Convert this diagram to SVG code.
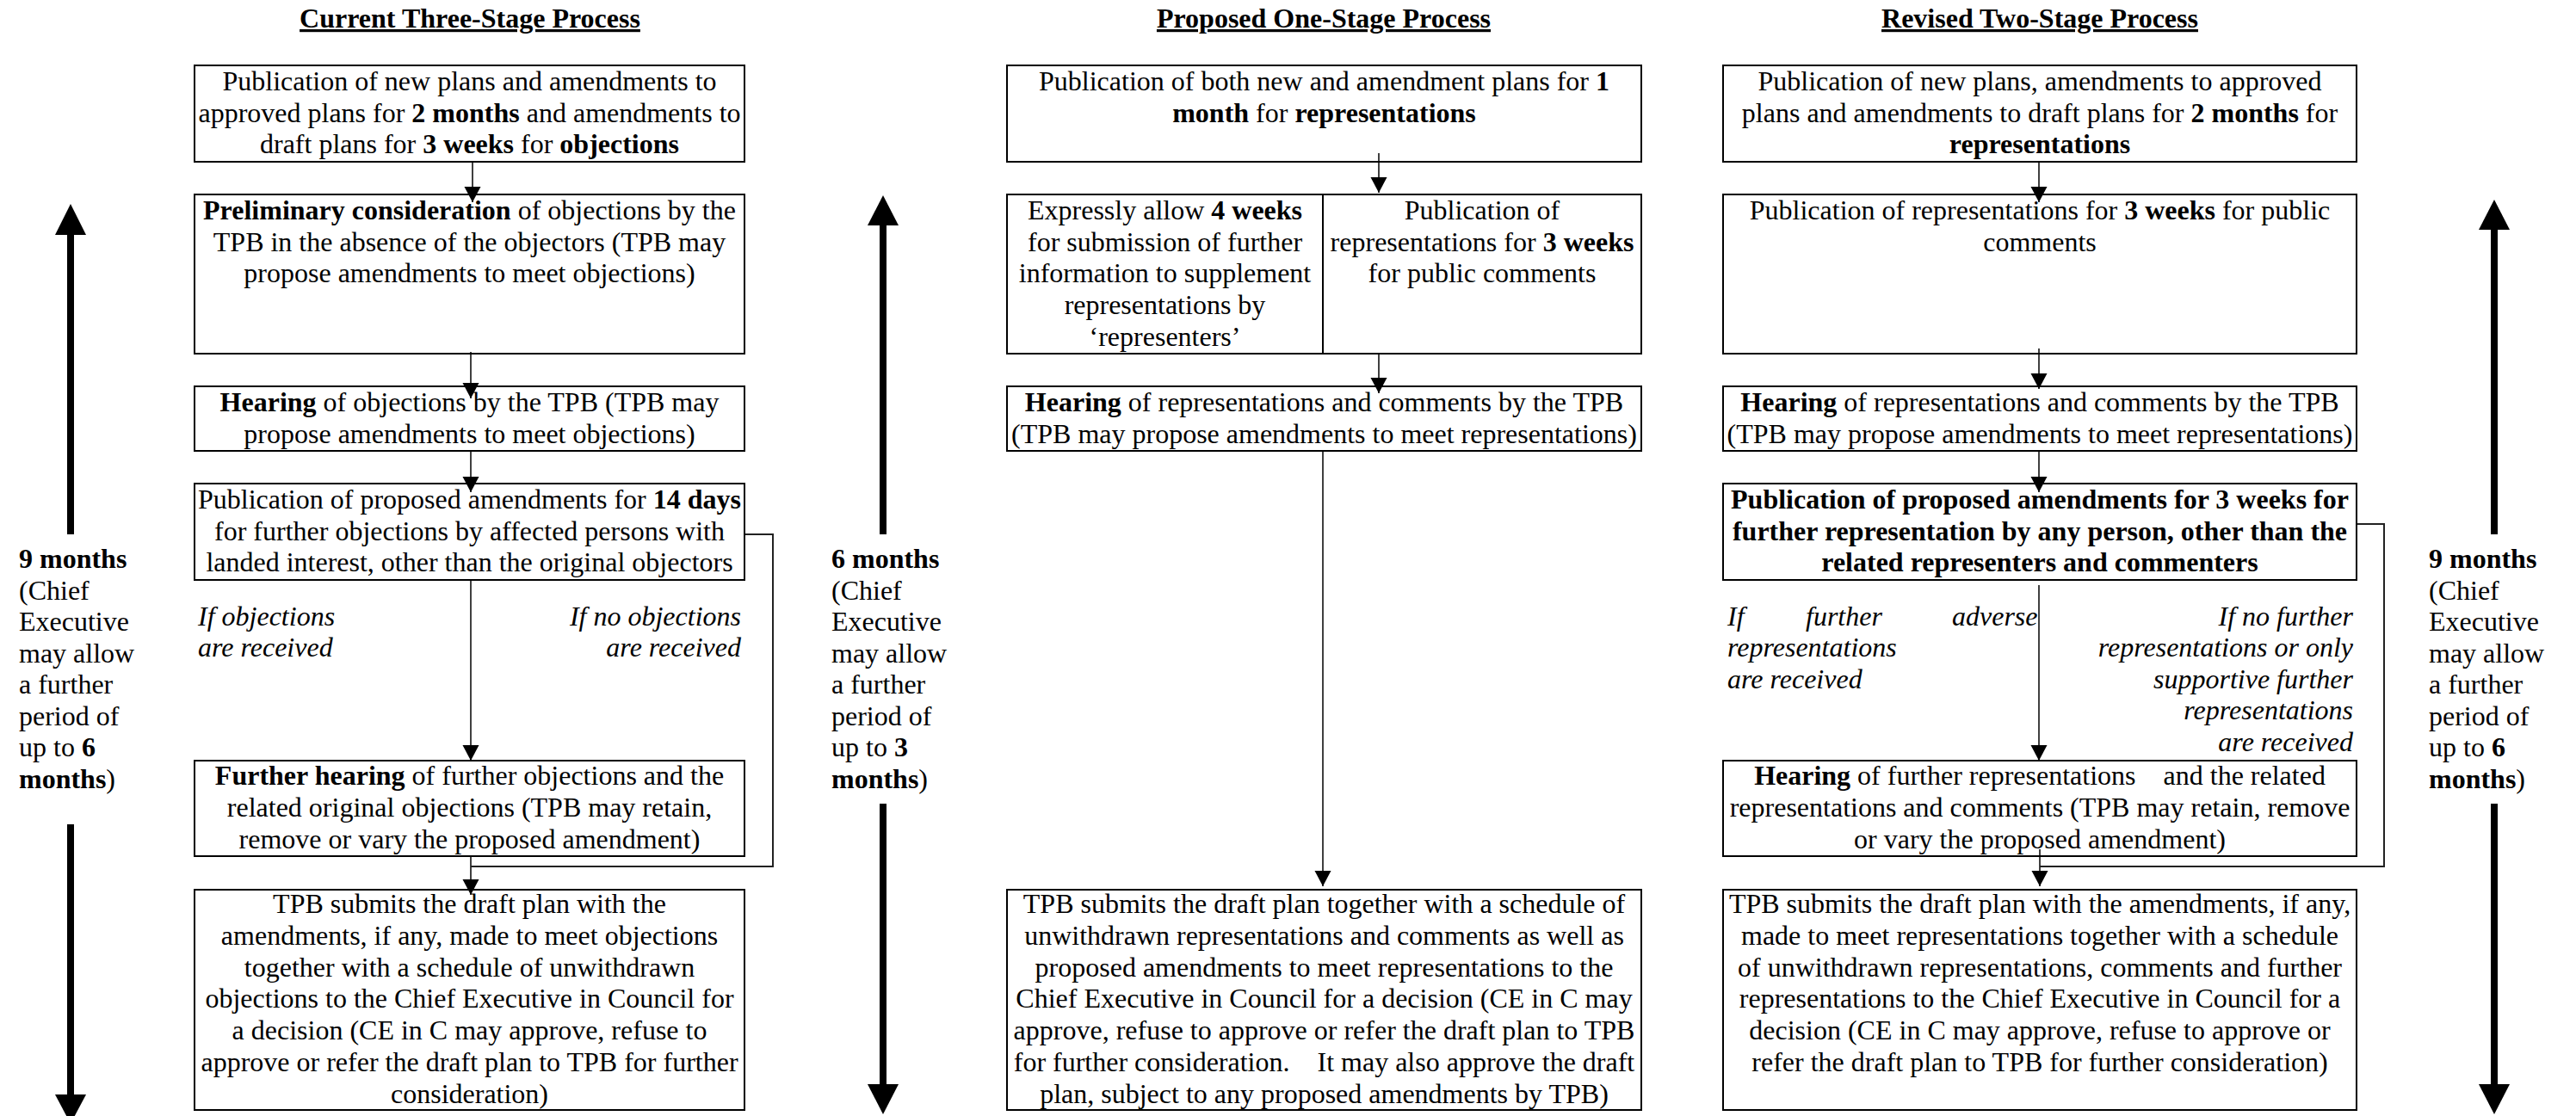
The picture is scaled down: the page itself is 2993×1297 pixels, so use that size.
<svg xmlns="http://www.w3.org/2000/svg" width="2993" height="1297" viewBox="0 0 2993 1297">
<style>
text { font-family: "Liberation Serif", "Times New Roman", serif; font-size: 32px; fill: #000; }
.c { text-anchor: middle; }
.e { text-anchor: end; }
.b { font-weight: bold; }
.i { font-style: italic; }
.title { font-weight: bold; text-decoration: underline; text-anchor: middle; }
.box { fill: #fff; stroke: #000; stroke-width: 2; }
.conn { stroke: #000; stroke-width: 1.5; fill: none; }
.side { stroke: #222; stroke-width: 2; fill: none; }
.big { stroke: #000; stroke-width: 8; fill: none; }
</style>
<defs>
<marker id="ah" markerUnits="userSpaceOnUse" viewBox="0 0 18 20" markerWidth="18" markerHeight="20" refX="18" refY="10" orient="auto">
<path d="M0,0.5 L18,10 L0,19.5 z" fill="#000"/>
</marker>
</defs>

<!-- Titles -->
<g id="titles">
<text class="title" x="546" y="32">Current Three-Stage Process</text>
<text class="title" x="1538" y="32">Proposed One-Stage Process</text>
<text class="title" x="2370" y="32">Revised Two-Stage Process</text>
</g>

<!-- Connectors -->
<g id="connectors">
<line class="conn" x1="549" y1="188" x2="549" y2="235" marker-end="url(#ah)"/>
<line class="conn" x1="547" y1="409" x2="547" y2="463" marker-end="url(#ah)"/>
<line class="conn" x1="547" y1="524" x2="547" y2="572" marker-end="url(#ah)"/>
<line class="conn" x1="547" y1="674" x2="547" y2="884" marker-end="url(#ah)"/>
<line class="conn" x1="547" y1="995" x2="547" y2="1040" marker-end="url(#ah)"/>
<polyline class="side" points="865,621 898,621 898,1007 547,1007"/>

<line class="conn" x1="1602" y1="178" x2="1602" y2="224" marker-end="url(#ah)"/>
<line class="conn" x1="1602" y1="411" x2="1602" y2="457" marker-end="url(#ah)"/>
<line class="conn" x1="1537" y1="524" x2="1537" y2="1030" marker-end="url(#ah)"/>

<line class="conn" x1="2369" y1="188" x2="2369" y2="235" marker-end="url(#ah)"/>
<line class="conn" x1="2369" y1="405" x2="2369" y2="452" marker-end="url(#ah)"/>
<line class="conn" x1="2369" y1="524" x2="2369" y2="572" marker-end="url(#ah)"/>
<line class="conn" x1="2369" y1="680" x2="2369" y2="884" marker-end="url(#ah)"/>
<line class="conn" x1="2370" y1="987" x2="2370" y2="1030" marker-end="url(#ah)"/>
<polyline class="side" points="2738,609 2770,609 2770,1007 2370,1007"/>
</g>

<!-- Column 1: Current Three-Stage Process -->
<g id="c1-publication">
<rect class="box" x="226" y="76" width="639" height="112"/>
<text class="c" x="545.5" y="105">Publication of new plans and amendments to</text>
<text class="c" x="545.5" y="142">approved plans for <tspan class="b">2 months</tspan> and amendments to</text>
<text class="c" x="545.5" y="178">draft plans for <tspan class="b">3 weeks</tspan> for <tspan class="b">objections</tspan></text>
</g>
<g id="c1-preliminary">
<rect class="box" x="226" y="226" width="639" height="185" fill-opacity="0"/>
<text class="c" x="545.5" y="255"><tspan class="b">Preliminary consideration</tspan> of objections by the</text>
<text class="c" x="545.5" y="292">TPB in the absence of the objectors (TPB may</text>
<text class="c" x="545.5" y="328">propose amendments to meet objections)</text>
</g>
<g id="c1-hearing">
<rect class="box" x="226" y="449" width="639" height="75" fill-opacity="0"/>
<text class="c" x="545.5" y="478"><tspan class="b">Hearing</tspan> of objections by the TPB (TPB may</text>
<text class="c" x="545.5" y="515">propose amendments to meet objections)</text>
</g>
<g id="c1-publish-amend">
<rect class="box" x="226" y="562" width="639" height="112" fill-opacity="0"/>
<text class="c" x="545.5" y="591">Publication of proposed amendments for <tspan class="b">14 days</tspan></text>
<text class="c" x="545.5" y="628">for further objections by affected persons with</text>
<text class="c" x="545.5" y="664">landed interest, other than the original objectors</text>
</g>
<g id="c1-labels">
<text class="i" x="230" y="727">If objections</text>
<text class="i" x="230" y="763">are received</text>
<text class="i e" x="861" y="727">If no objections</text>
<text class="i e" x="861" y="763">are received</text>
</g>
<g id="c1-further-hearing">
<rect class="box" x="226" y="884" width="639" height="111" fill-opacity="0"/>
<text class="c" x="545.5" y="912"><tspan class="b">Further hearing</tspan> of further objections and the</text>
<text class="c" x="545.5" y="949">related original objections (TPB may retain,</text>
<text class="c" x="545.5" y="986">remove or vary the proposed amendment)</text>
</g>
<g id="c1-submit">
<rect class="box" x="226" y="1034" width="639" height="256" fill-opacity="0"/>
<text class="c" x="545.5" y="1061">TPB submits the draft plan with the</text>
<text class="c" x="545.5" y="1098">amendments, if any, made to meet objections</text>
<text class="c" x="545.5" y="1135">together with a schedule of unwithdrawn</text>
<text class="c" x="545.5" y="1171">objections to the Chief Executive in Council for</text>
<text class="c" x="545.5" y="1208">a decision (CE in C may approve, refuse to</text>
<text class="c" x="545.5" y="1245">approve or refer the draft plan to TPB for further</text>
<text class="c" x="545.5" y="1282">consideration)</text>
</g>
<g id="c1-duration">
<line class="big" x1="82" y1="621" x2="82" y2="270"/>
<polygon points="64,273 100,273 82,237"/>
<text class="b" x="22" y="660">9 months</text>
<text x="22" y="697">(Chief</text>
<text x="22" y="733">Executive</text>
<text x="22" y="770">may allow</text>
<text x="22" y="806">a further</text>
<text x="22" y="843">period of</text>
<text x="22" y="879">up to <tspan class="b">6</tspan></text>
<text x="22" y="916"><tspan class="b">months</tspan>)</text>
<line class="big" x1="82" y1="958" x2="82" y2="1275"/>
<polygon points="64,1272 100,1272 82,1306"/>
</g>

<!-- Column 2: Proposed One-Stage Process -->
<g id="c2-publication">
<rect class="box" x="1170" y="76" width="737" height="112" fill-opacity="0"/>
<text class="c" x="1538.5" y="105">Publication of both new and amendment plans for <tspan class="b">1</tspan></text>
<text class="c" x="1538.5" y="142"><tspan class="b">month</tspan> for <tspan class="b">representations</tspan></text>
</g>
<g id="c2-further-info">
<rect class="box" x="1170" y="226" width="737" height="185" fill-opacity="0"/>
<line x1="1537" y1="226" x2="1537" y2="411" stroke="#000" stroke-width="2"/>
<text class="c" x="1353.5" y="255">Expressly allow <tspan class="b">4 weeks</tspan></text>
<text class="c" x="1353.5" y="292">for submission of further</text>
<text class="c" x="1353.5" y="328">information to supplement</text>
<text class="c" x="1353.5" y="365">representations by</text>
<text class="c" x="1353.5" y="402">‘representers’</text>
<text class="c" x="1722" y="255">Publication of</text>
<text class="c" x="1722" y="292">representations for <tspan class="b">3 weeks</tspan></text>
<text class="c" x="1722" y="328">for public comments</text>
</g>
<g id="c2-hearing">
<rect class="box" x="1170" y="449" width="737" height="75" fill-opacity="0"/>
<text class="c" x="1538.5" y="478"><tspan class="b">Hearing</tspan> of representations and comments by the TPB</text>
<text class="c" x="1538.5" y="515">(TPB may propose amendments to meet representations)</text>
</g>
<g id="c2-submit">
<rect class="box" x="1170" y="1034" width="737" height="256" fill-opacity="0"/>
<text class="c" x="1538.5" y="1061">TPB submits the draft plan together with a schedule of</text>
<text class="c" x="1538.5" y="1098">unwithdrawn representations and comments as well as</text>
<text class="c" x="1538.5" y="1135">proposed amendments to meet representations to the</text>
<text class="c" x="1538.5" y="1171">Chief Executive in Council for a decision (CE in C may</text>
<text class="c" x="1538.5" y="1208">approve, refuse to approve or refer the draft plan to TPB</text>
<text class="c" x="1538.5" y="1245">for further consideration.&#160;&#160;&#160; It may also approve the draft</text>
<text class="c" x="1538.5" y="1282">plan, subject to any proposed amendments by TPB)</text>
</g>
<g id="c2-duration">
<line class="big" x1="1026" y1="621" x2="1026" y2="259"/>
<polygon points="1008,262 1044,262 1026,227"/>
<text class="b" x="966" y="660">6 months</text>
<text x="966" y="697">(Chief</text>
<text x="966" y="733">Executive</text>
<text x="966" y="770">may allow</text>
<text x="966" y="806">a further</text>
<text x="966" y="843">period of</text>
<text x="966" y="879">up to <tspan class="b">3</tspan></text>
<text x="966" y="916"><tspan class="b">months</tspan>)</text>
<line class="big" x1="1026" y1="934" x2="1026" y2="1263"/>
<polygon points="1008,1260 1044,1260 1026,1295"/>
</g>

<!-- Column 3: Revised Two-Stage Process -->
<g id="c3-publication">
<rect class="box" x="2002" y="76" width="736" height="112" fill-opacity="0"/>
<text class="c" x="2370" y="105">Publication of new plans, amendments to approved</text>
<text class="c" x="2370" y="142">plans and amendments to draft plans for <tspan class="b">2 months</tspan> for</text>
<text class="c b" x="2370" y="178">representations</text>
</g>
<g id="c3-publish-reps">
<rect class="box" x="2002" y="226" width="736" height="185" fill-opacity="0"/>
<text class="c" x="2370" y="255">Publication of representations for <tspan class="b">3 weeks</tspan> for public</text>
<text class="c" x="2370" y="292">comments</text>
</g>
<g id="c3-hearing">
<rect class="box" x="2002" y="449" width="736" height="75" fill-opacity="0"/>
<text class="c" x="2370" y="478"><tspan class="b">Hearing</tspan> of representations and comments by the TPB</text>
<text class="c" x="2370" y="515">(TPB may propose amendments to meet representations)</text>
</g>
<g id="c3-publish-amend">
<rect class="box" x="2002" y="562" width="736" height="112" fill-opacity="0"/>
<text class="c b" x="2370" y="591">Publication of proposed amendments for 3 weeks for</text>
<text class="c b" x="2370" y="628">further representation by any person, other than the</text>
<text class="c b" x="2370" y="664">related representers and commenters</text>
</g>
<g id="c3-labels">
<text class="i" y="727"><tspan x="2007">If</tspan><tspan x="2098">further</tspan><tspan x="2268">adverse</tspan></text>
<text class="i" x="2007" y="763">representations</text>
<text class="i" x="2007" y="800">are received</text>
<text class="i e" x="2734" y="727">If no further</text>
<text class="i e" x="2734" y="763">representations or only</text>
<text class="i e" x="2734" y="800">supportive further</text>
<text class="i e" x="2734" y="836">representations</text>
<text class="i e" x="2734" y="873">are received</text>
</g>
<g id="c3-further-hearing">
<rect class="box" x="2002" y="884" width="736" height="111" fill-opacity="0"/>
<text class="c" x="2370" y="912"><tspan class="b">Hearing</tspan> of further representations&#160;&#160;&#160; and the related</text>
<text class="c" x="2370" y="949">representations and comments (TPB may retain, remove</text>
<text class="c" x="2370" y="986">or vary the proposed amendment)</text>
</g>
<g id="c3-submit">
<rect class="box" x="2002" y="1034" width="736" height="256" fill-opacity="0"/>
<text class="c" x="2370" y="1061">TPB submits the draft plan with the amendments, if any,</text>
<text class="c" x="2370" y="1098">made to meet representations together with a schedule</text>
<text class="c" x="2370" y="1135">of unwithdrawn representations, comments and further</text>
<text class="c" x="2370" y="1171">representations to the Chief Executive in Council for a</text>
<text class="c" x="2370" y="1208">decision (CE in C may approve, refuse to approve or</text>
<text class="c" x="2370" y="1245">refer the draft plan to TPB for further consideration)</text>
</g>
<g id="c3-duration">
<line class="big" x1="2898" y1="621" x2="2898" y2="264"/>
<polygon points="2880,267 2916,267 2898,232"/>
<text class="b" x="2822" y="660">9 months</text>
<text x="2822" y="697">(Chief</text>
<text x="2822" y="733">Executive</text>
<text x="2822" y="770">may allow</text>
<text x="2822" y="806">a further</text>
<text x="2822" y="843">period of</text>
<text x="2822" y="879">up to <tspan class="b">6</tspan></text>
<text x="2822" y="916"><tspan class="b">months</tspan>)</text>
<line class="big" x1="2898" y1="934" x2="2898" y2="1263"/>
<polygon points="2880,1260 2916,1260 2898,1295"/>
</g>
</svg>
